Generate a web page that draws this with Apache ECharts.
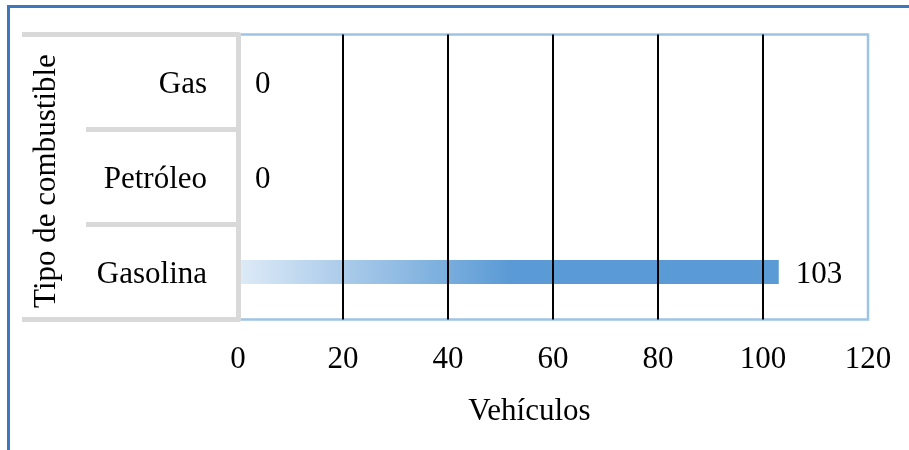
<!DOCTYPE html>
<html>
<head>
<meta charset="utf-8">
<script src="https://cdn.jsdelivr.net/npm/echarts@6/dist/echarts.min.js"></script>
<style>
  html, body { margin: 0; padding: 0; background: #fff; }
  #wrap { position: relative; width: 909px; height: 450px; overflow: hidden; }
  #frame { position: absolute; left: 7px; top: 5px; width: 1000px; height: 600px;
           border-top: 3px solid #3f77bd; border-left: 3px solid #3f77bd; box-sizing: border-box; }
  #chart { position: absolute; left: 0; top: 0; width: 909px; height: 450px; }
</style>
</head>
<body>
<div id="wrap">
  <div id="frame"></div>
  <div id="chart"></div>
</div>
<script>
// Fuel types, listed top to bottom
const categories = ['Gas', 'Petróleo', 'Gasolina'];
// Number of vehicles per fuel type
const vehicles = [0, 0, 103];
// Value axis ticks
const xTicks = [0, 20, 40, 60, 80, 100, 120];

const serif = '"Liberation Serif", "Times New Roman", serif';
const gray = '#d9d9d9';
const fs = 31;

const chart = echarts.init(document.getElementById('chart'), null, { renderer: 'canvas' });

chart.setOption({
  animation: false,
  textStyle: { fontFamily: serif },
  grid: {
    left: 238, right: 41, top: 34.5, bottom: 130.5,
    show: true, borderColor: '#9dc3e6', borderWidth: 2.5,
    backgroundColor: 'transparent', containLabel: false
  },
  xAxis: {
    type: 'value',
    min: xTicks[0],
    max: xTicks[xTicks.length - 1],
    interval: xTicks[1] - xTicks[0],
    name: 'Vehículos',
    nameLocation: 'middle',
    nameGap: 77,
    nameTextStyle: { fontFamily: serif, fontSize: fs, color: '#000', padding: [0, 47, 0, 0] },
    axisLine: { show: false },
    axisTick: { show: false },
    axisLabel: { fontFamily: serif, fontSize: fs, color: '#000', margin: 25 },
    splitLine: { show: true, showMinLine: false, showMaxLine: false, lineStyle: { color: '#000', width: 2 } },
    z: 3
  },
  yAxis: [
    {
      type: 'category',
      data: categories,
      inverse: true,
      name: 'Tipo de combustible',
      nameLocation: 'middle',
      nameGap: 176,
      nameRotate: 90,
      nameTextStyle: { fontFamily: serif, fontSize: fs, color: '#000', padding: [0, 8, 0, 0] },
      axisLine: { show: true, lineStyle: { color: gray, width: 5 } },
      axisTick: { show: true, length: 152, lineStyle: { color: gray, width: 5 } },
      axisLabel: {
        margin: 31,
        // a tall empty strut lowers the label text a little inside its row
        formatter: (v) => '{c|' + v + '}{s|}',
        rich: {
          c: { fontFamily: serif, fontSize: fs, color: '#000', lineHeight: fs, verticalAlign: 'bottom' },
          s: { lineHeight: fs + 6, width: 0, fontSize: 1 }
        }
      },
      splitLine: { show: false },
      z: 5
    },
    {
      // outer rules of the label table (top and bottom edges)
      type: 'value',
      min: 0, max: 1, interval: 1,
      position: 'left',
      axisLine: { show: false },
      axisLabel: { show: false },
      splitLine: { show: false },
      axisTick: { show: true, length: 216, lineStyle: { color: gray, width: 5 } },
      z: 5
    }
  ],
  series: [{
    type: 'bar',
    data: vehicles,
    barWidth: 24,
    z: 2,
    itemStyle: {
      color: new echarts.graphic.LinearGradient(0, 0, 1, 0, [
        { offset: 0, color: '#deebf7' },
        { offset: 0.5, color: '#5b9bd5' },
        { offset: 1, color: '#5b9bd5' }
      ])
    },
    label: {
      show: true,
      position: 'right',
      distance: 17,
      offset: [0, 3],
      fontFamily: serif,
      fontSize: fs,
      color: '#000'
    }
  }]
});
</script>
</body>
</html>
